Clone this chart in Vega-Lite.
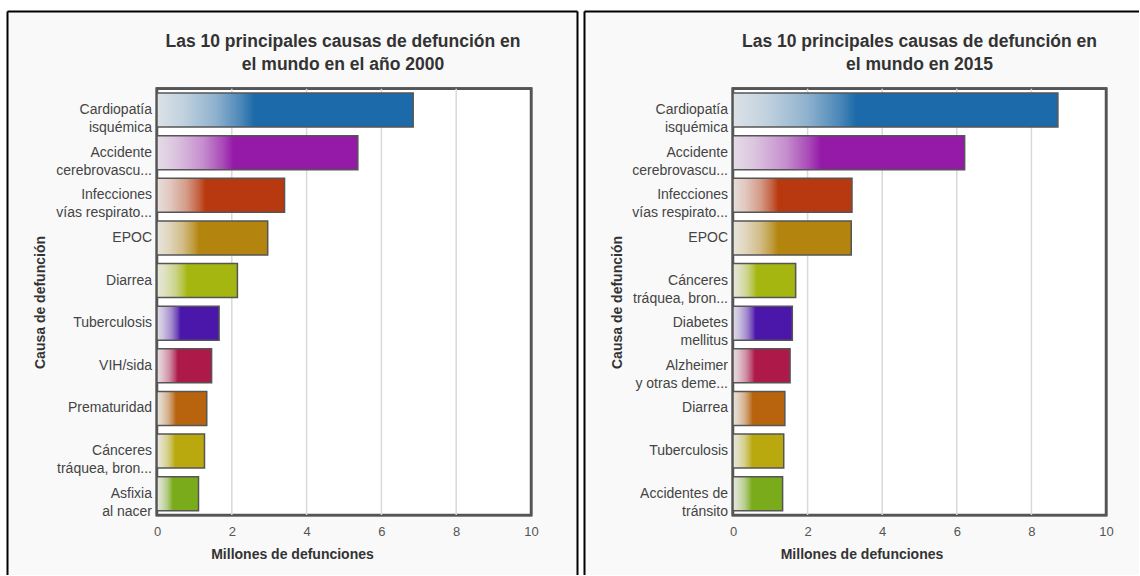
{
  "$schema": "https://vega.github.io/schema/vega-lite/v6.json",
  "background": "white",
  "padding": {"left": 7, "top": 11, "right": 0, "bottom": 0},
  "bounds": "flush",
  "spacing": 7,
  "config": {
    "font": "Liberation Sans",
    "view": {"fill": "#f9f9f9", "stroke": null}
  },
  "datasets": {
    "y2000": [
      {"rank": 1, "cause": ["Cardiopatía", "isquémica"], "value": 6.85},
      {"rank": 2, "cause": ["Accidente", "cerebrovascu..."], "value": 5.37},
      {"rank": 3, "cause": ["Infecciones", "vías respirato..."], "value": 3.41},
      {"rank": 4, "cause": "EPOC", "value": 2.96},
      {"rank": 5, "cause": "Diarrea", "value": 2.15},
      {"rank": 6, "cause": "Tuberculosis", "value": 1.66},
      {"rank": 7, "cause": "VIH/sida", "value": 1.46},
      {"rank": 8, "cause": "Prematuridad", "value": 1.33},
      {"rank": 9, "cause": ["Cánceres", "tráquea, bron..."], "value": 1.27},
      {"rank": 10, "cause": ["Asfixia", "al nacer"], "value": 1.11}
    ],
    "y2015": [
      {"rank": 1, "cause": ["Cardiopatía", "isquémica"], "value": 8.71},
      {"rank": 2, "cause": ["Accidente", "cerebrovascu..."], "value": 6.21},
      {"rank": 3, "cause": ["Infecciones", "vías respirato..."], "value": 3.19},
      {"rank": 4, "cause": "EPOC", "value": 3.17},
      {"rank": 5, "cause": ["Cánceres", "tráquea, bron..."], "value": 1.68},
      {"rank": 6, "cause": ["Diabetes", "mellitus"], "value": 1.59},
      {"rank": 7, "cause": ["Alzheimer", "y otras deme..."], "value": 1.53},
      {"rank": 8, "cause": "Diarrea", "value": 1.39},
      {"rank": 9, "cause": "Tuberculosis", "value": 1.36},
      {"rank": 10, "cause": ["Accidentes de", "tránsito"], "value": 1.33}
    ],
    "ticks": [{"t": 2}, {"t": 4}, {"t": 6}, {"t": 8}]
  },
  "hconcat": [
    {
      "width": 570,
      "height": 564,
      "title": {
        "text": ["Las 10 principales causas de defunción en", "el mundo en el año 2000"],
        "fontSize": 17.5, "fontWeight": "bold", "color": "#333", "lineHeight": 23,
        "anchor": "middle", "frame": "group", "dx": 51, "offset": -62
      },
      "resolve": {"axis": {"x": "independent", "y": "independent"}},
      "layer": [
        {
          "data": {"name": "ticks"},
          "mark": {"type": "rect", "fill": "white", "stroke": "#555", "strokeWidth": 2.5},
          "encoding": {
            "x": {"datum": 0, "type": "quantitative",
              "scale": {"domain": [-4.0107, 11.2299], "nice": false, "zero": false},
              "axis": {"orient": "bottom", "offset": -56, "values": [0, 2, 4, 6, 8, 10], "domain": false, "ticks": false, "grid": false,
                "labelPadding": 6, "labelFontSize": 13, "labelColor": "#555", "labelFlush": false,
                "title": "Millones de defunciones", "titleFontSize": 14, "titleFontWeight": "bold", "titleColor": "#333",
                "titleY": 35, "titleBaseline": "middle"}},
            "x2": {"datum": 10},
            "y": {"datum": 0.5, "type": "quantitative",
              "scale": {"domain": [-1.205, 11.79], "nice": false, "zero": false, "reverse": true},
              "axis": {"orient": "left", "domain": true, "domainColor": "#000", "domainWidth": 2, "ticks": false, "labels": false, "grid": false,
                "title": "Causa de defunción", "titleFontSize": 14, "titleFontWeight": "bold", "titleColor": "#333",
                "titleX": 33, "titleY": 291, "titleAngle": -90, "titleBaseline": "middle"}},
            "y2": {"datum": 10.5}
          }
        },
        {
          "data": {"name": "ticks"},
          "mark": {"type": "rule", "color": "#d9d9d9", "strokeWidth": 1.5},
          "encoding": {
            "x": {"field": "t", "type": "quantitative",
              "axis": {"orient": "top", "domain": true, "domainColor": "#000", "domainWidth": 2, "ticks": false, "labels": false, "grid": false, "title": null}},
            "y": {"datum": 0.5, "type": "quantitative",
              "axis": {"orient": "right", "domain": true, "domainColor": "#000", "domainWidth": 2, "ticks": false, "labels": false, "grid": false, "title": null}},
            "y2": {"datum": 10.5}
          }
        },
        {
          "data": {"name": "y2000"},
          "mark": {"type": "bar", "orient": "horizontal", "size": 34},
          "encoding": {
            "x": {"field": "value", "type": "quantitative", "axis": null},
            "x2": {"datum": 0},
            "y": {"field": "rank", "type": "quantitative", "axis": null},
            "color": {"field": "rank", "type": "nominal", "legend": null,
              "scale": {"domain": [1, 2, 3, 4, 5, 6, 7, 8, 9, 10],
                "range": ["#1c6aa9", "#951aa8", "#b8390f", "#b3850f", "#a4b60f", "#4b17ab", "#ad1a4a", "#b8640f", "#b9a90f", "#7aab1b"]}}
          }
        },
        {
          "data": {"name": "y2000"},
          "mark": {"type": "bar", "orient": "horizontal", "size": 34, "stroke": "#555", "strokeWidth": 1.5,
            "fill": {"gradient": "linear", "x1": 0, "y1": 0, "x2": 1, "y2": 0,
              "stops": [
                {"offset": 0, "color": "rgba(236,236,236,0.92)"},
                {"offset": 0.1, "color": "rgba(236,236,236,0.8)"},
                {"offset": 0.23, "color": "rgba(236,236,236,0.55)"},
                {"offset": 0.33, "color": "rgba(236,236,236,0.22)"},
                {"offset": 0.38, "color": "rgba(236,236,236,0)"},
                {"offset": 1, "color": "rgba(236,236,236,0)"}
              ]}},
          "encoding": {
            "x": {"field": "value", "type": "quantitative", "axis": null},
            "x2": {"datum": 0},
            "y": {"field": "rank", "type": "quantitative", "axis": null}
          }
        },
        {
          "data": {"name": "y2000"},
          "mark": {"type": "text", "align": "right", "baseline": "middle", "dx": -5, "fontSize": 14, "color": "#444", "lineHeight": 18},
          "encoding": {
            "x": {"datum": 0, "type": "quantitative", "axis": null},
            "y": {"field": "rank", "type": "quantitative", "axis": null},
            "text": {"field": "cause", "type": "nominal"}
          }
        }
      ]
    },
    {
      "width": 555,
      "height": 564,
      "title": {
        "text": ["Las 10 principales causas de defunción en", "el mundo en 2015"],
        "fontSize": 17.5, "fontWeight": "bold", "color": "#333", "lineHeight": 23,
        "anchor": "middle", "frame": "group", "dx": 58, "offset": -62
      },
      "resolve": {"axis": {"x": "independent", "y": "independent"}},
      "layer": [
        {
          "data": {"name": "ticks"},
          "mark": {"type": "rect", "fill": "white", "stroke": "#555", "strokeWidth": 2.5},
          "encoding": {
            "x": {"datum": 0, "type": "quantitative",
              "scale": {"domain": [-3.9946, 10.8847], "nice": false, "zero": false},
              "axis": {"orient": "bottom", "offset": -56, "values": [0, 2, 4, 6, 8, 10], "domain": false, "ticks": false, "grid": false,
                "labelPadding": 6, "labelFontSize": 13, "labelColor": "#555", "labelFlush": false,
                "title": "Millones de defunciones", "titleFontSize": 14, "titleFontWeight": "bold", "titleColor": "#333",
                "titleY": 35, "titleBaseline": "middle"}},
            "x2": {"datum": 10},
            "y": {"datum": 0.5, "type": "quantitative",
              "scale": {"domain": [-1.205, 11.79], "nice": false, "zero": false, "reverse": true},
              "axis": {"orient": "left", "domain": true, "domainColor": "#000", "domainWidth": 2, "ticks": false, "labels": false, "grid": false,
                "title": "Causa de defunción", "titleFontSize": 14, "titleFontWeight": "bold", "titleColor": "#333",
                "titleX": 33, "titleY": 291, "titleAngle": -90, "titleBaseline": "middle"}},
            "y2": {"datum": 10.5}
          }
        },
        {
          "data": {"name": "ticks"},
          "mark": {"type": "rule", "color": "#d9d9d9", "strokeWidth": 1.5},
          "encoding": {
            "x": {"field": "t", "type": "quantitative",
              "axis": {"orient": "top", "domain": true, "domainColor": "#000", "domainWidth": 2, "ticks": false, "labels": false, "grid": false, "title": null}},
            "y": {"datum": 0.5, "type": "quantitative", "axis": null},
            "y2": {"datum": 10.5}
          }
        },
        {
          "data": {"name": "y2015"},
          "mark": {"type": "bar", "orient": "horizontal", "size": 34},
          "encoding": {
            "x": {"field": "value", "type": "quantitative", "axis": null},
            "x2": {"datum": 0},
            "y": {"field": "rank", "type": "quantitative", "axis": null},
            "color": {"field": "rank", "type": "nominal", "legend": null,
              "scale": {"domain": [1, 2, 3, 4, 5, 6, 7, 8, 9, 10],
                "range": ["#1c6aa9", "#951aa8", "#b8390f", "#b3850f", "#a4b60f", "#4b17ab", "#ad1a4a", "#b8640f", "#b9a90f", "#7aab1b"]}}
          }
        },
        {
          "data": {"name": "y2015"},
          "mark": {"type": "bar", "orient": "horizontal", "size": 34, "stroke": "#555", "strokeWidth": 1.5,
            "fill": {"gradient": "linear", "x1": 0, "y1": 0, "x2": 1, "y2": 0,
              "stops": [
                {"offset": 0, "color": "rgba(236,236,236,0.92)"},
                {"offset": 0.1, "color": "rgba(236,236,236,0.8)"},
                {"offset": 0.23, "color": "rgba(236,236,236,0.55)"},
                {"offset": 0.33, "color": "rgba(236,236,236,0.22)"},
                {"offset": 0.38, "color": "rgba(236,236,236,0)"},
                {"offset": 1, "color": "rgba(236,236,236,0)"}
              ]}},
          "encoding": {
            "x": {"field": "value", "type": "quantitative", "axis": null},
            "x2": {"datum": 0},
            "y": {"field": "rank", "type": "quantitative", "axis": null}
          }
        },
        {
          "data": {"name": "y2015"},
          "mark": {"type": "text", "align": "right", "baseline": "middle", "dx": -5, "fontSize": 14, "color": "#444", "lineHeight": 18},
          "encoding": {
            "x": {"datum": 0, "type": "quantitative", "axis": null},
            "y": {"field": "rank", "type": "quantitative", "axis": null},
            "text": {"field": "cause", "type": "nominal"}
          }
        }
      ]
    }
  ]
}
